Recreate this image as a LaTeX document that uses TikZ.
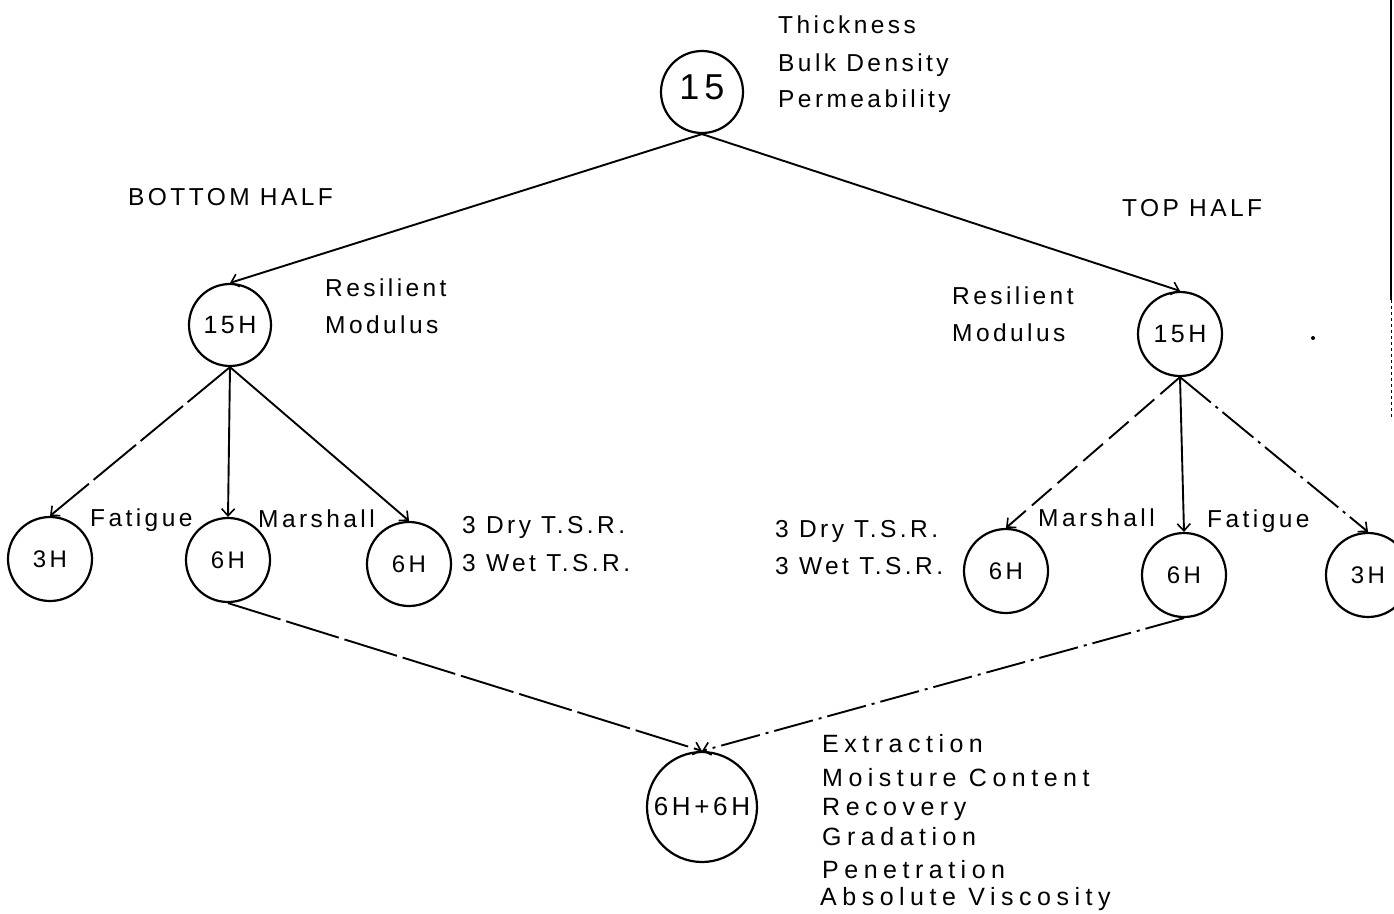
\documentclass[tikz,border=0pt]{standalone}
\usepackage{fontspec}
\setmainfont{Liberation Sans}
\newfontfamily\pf[LetterSpace=14]{Liberation Sans}
\newfontfamily\pfw[LetterSpace=22]{Liberation Sans}
\usetikzlibrary{arrows.meta}
\newcommand\lblfont{\pf\fontsize{24.5}{28}\selectfont}
\newcommand\widefont{\pfw\fontsize{25}{28}\selectfont}
\newcommand\bigfont{\pf\fontsize{36}{40}\selectfont}
\newcommand\midfont{\pf\fontsize{25}{28}\selectfont}
\newcommand\smlfont{\pf\fontsize{24}{26}\selectfont}
\newcommand\botfont{\pf\fontsize{26}{28}\selectfont}
\begin{document}
\begin{tikzpicture}[x=1pt,y=-1pt,
  circ/.style={draw,circle,line width=2.2pt,inner sep=0pt,minimum size=#1,font=\smlfont},
  circ/.default=84pt,
  lbl/.style={anchor=base west,inner sep=0pt,font=\lblfont},
  wlbl/.style={anchor=base west,inner sep=0pt,font=\widefont},
  edge/.style={line width=1.9pt,-{Straight Barb[length=7pt,width=13pt,line width=1.6pt]}},
  dashA/.style={dash pattern=on 55pt off 6pt},
  dashB/.style={dash pattern=on 26pt off 8pt},
  dashC/.style={dash pattern=on 40pt off 6pt on 3pt off 6pt}]
\useasboundingbox (0,0) rectangle (1394,913);
% circles
\node[circ=82pt,font=\bigfont] (top) at (702,92) {\raisebox{9pt}{15}};
\node[circ=82pt,font=\midfont] (l15) at (230,325) {15H};
\node[circ=84pt,font=\midfont] (r15) at (1180,334) {15H};
\node[circ] (l3) at (50,559) {3H};
\node[circ] (l6a) at (228,560) {6H};
\node[circ] (l6b) at (409,564) {6H};
\node[circ] (r6a) at (1006,571) {6H};
\node[circ] (r6b) at (1184,575) {6H};
\node[circ] (r3) at (1368,575) {3H};
\node[circ=110pt,font=\botfont] (bot) at (702,807) {6H+6H};
% connectors
\draw[edge] (top.south) -- (l15.north);
\draw[edge] (top.south) -- (r15.north);
\draw[edge,dashA] (l15.south) -- (l3.north);
\draw[edge] (l15.south) -- (l6a.north);
\draw[edge] (l15.south) -- (l6b.north);
\draw[edge,dashB] (r15.south) -- (r6a.north);
\draw[edge] (r15.south) -- (r6b.north);
\draw[edge,dashC] (r15.south) -- (r3.north);
\draw[edge,dashA] (l6a.south) -- (bot.north);
\draw[edge,dashC] (r6b.south) -- (bot.north);
% labels
\node[lbl] (t1) at (778,33) {Thickness};
\node[lbl] (t2) at (778,71) {Bulk Density};
\node[lbl] (t3) at (778,107) {Permeability};
\node[lbl] (bh) at (128,205) {BOTTOM HALF};
\node[lbl] (th) at (1122,216) {TOP HALF};
\node[lbl] (lr1) at (325,296) {Resilient};
\node[lbl] (lr2) at (325,333) {Modulus};
\node[lbl] (rr1) at (952,304) {Resilient};
\node[lbl] (rr2) at (952,341) {Modulus};
\node[lbl] (lf) at (90,526) {Fatigue};
\node[lbl] (lm) at (258,527) {Marshall};
\node[lbl] (ld) at (462,533) {3 Dry T.S.R.};
\node[lbl] (lw) at (462,571) {3 Wet T.S.R.};
\node[lbl] (rd) at (775,537) {3 Dry T.S.R.};
\node[lbl] (rw) at (775,574) {3 Wet T.S.R.};
\node[lbl] (rm) at (1038,526) {Marshall};
\node[lbl] (rf) at (1207,527) {Fatigue};
\node[wlbl] (b1) at (822,752) {Extraction};
\node[wlbl] (b2) at (822,786) {Moisture Content};
\node[wlbl] (b3) at (822,815) {Recovery};
\node[wlbl] (b4) at (822,845) {Gradation};
\node[wlbl] (b5) at (822,878) {Penetration};
\node[wlbl] (b6) at (820,905) {Absolute Viscosity};
% scan marks
\draw[line width=1.5pt] (1391,0) -- (1391,300);
\draw[line width=0.6pt,dash pattern=on 3pt off 3pt] (1391,300) -- (1391,420);
\fill (1313,338) circle (2pt);
\end{tikzpicture}
\end{document}
